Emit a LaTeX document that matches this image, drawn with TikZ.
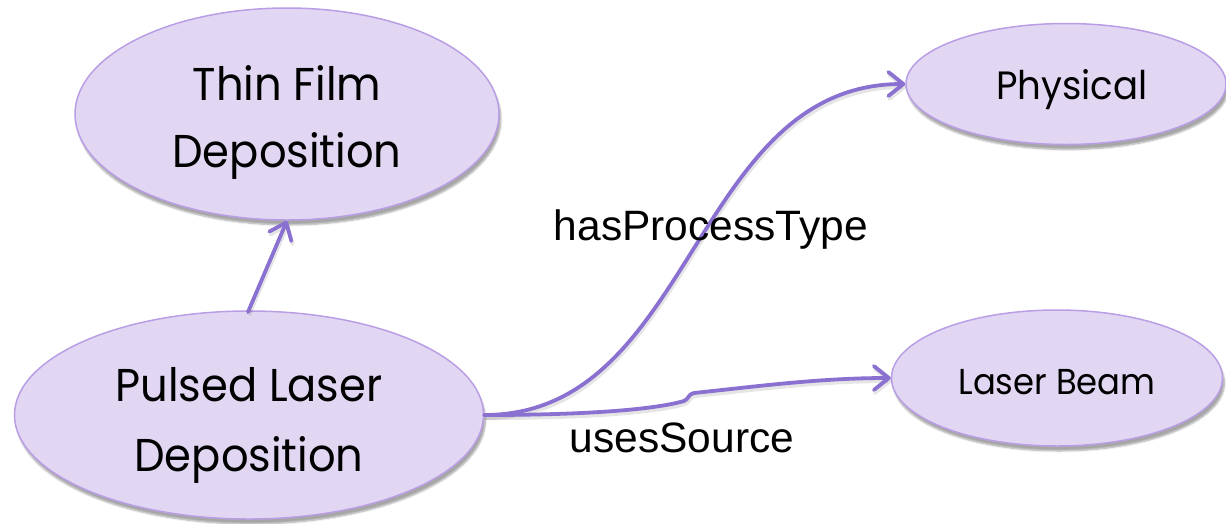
\documentclass[tikz,border=0pt]{standalone}
\usepackage{fontspec}
\newfontfamily\nodefont[FakeStretch=0.94]{Poppins}
\newfontfamily\labelfont{Liberation Sans}
\usetikzlibrary{arrows.meta,shapes.geometric,shadows.blur}
\definecolor{nodefill}{HTML}{E2D7F3}
\definecolor{nodeline}{HTML}{B99EE5}
\definecolor{edgecol}{HTML}{8A70D1}
\tikzset{
  concept/.style={ellipse, fill=nodefill, draw=nodeline, line width=1.5pt, inner sep=0pt,
    align=center, font=\nodefont,
    blur shadow={shadow xshift=2pt, shadow yshift=-5pt, shadow blur steps=6, shadow opacity=35}},
  rel/.style={draw=edgecol, line width=3.8pt, line cap=round,
    -{Straight Barb[length=15pt, width=24pt, line width=3.8pt, round]},
    preaction={draw=black, opacity=0.10, line width=4pt, transform canvas={xshift=1pt, yshift=-3pt}}},
  rellabel/.style={font=\labelfont\fontsize{42.5}{48}\selectfont, text=black, inner sep=0pt, anchor=base}
}
\begin{document}
\begin{tikzpicture}[x=1pt,y=1pt]
\useasboundingbox (0,0) rectangle (1226,-523);
\node[concept, minimum width=424pt, minimum height=212pt,
  font=\nodefont\fontsize{46}{67}\selectfont] (tfd) at (287,-114)
  {\raisebox{-7pt}[\height][\depth]{\begin{tabular}{@{}c@{}}Thin Film\\Deposition\end{tabular}}};
\node[concept, minimum width=469pt, minimum height=208pt,
  font=\nodefont\fontsize{46}{70}\selectfont] (pld) at (249,-415)
  {\raisebox{-7pt}[\height][\depth]{\begin{tabular}{@{}c@{}}Pulsed Laser\\Deposition\end{tabular}}};
\node[concept, minimum width=320pt, minimum height=121pt,
  font=\nodefont\fontsize{39.5}{44}\selectfont] (phy) at (1066,-84)
  {\hspace*{12pt}\raisebox{-6pt}[\height][\depth]{Physical}};
\node[concept, minimum width=331pt, minimum height=136pt,
  font=\nodefont\fontsize{36}{42}\selectfont] (lb) at (1057,-378)
  {\raisebox{-4pt}[\height][\depth]{Laser Beam}};

\coordinate (ptop) at (248,-312);
\draw[rel] (ptop) -- (tfd.south);
\draw[rel] (pld.east) .. controls +(210,0) and +(-213,0) .. (phy.west);
\coordinate (j1) at (684,-401);
\coordinate (j2) at (694,-393);
\draw[rel] (pld.east) .. controls +(117,0) and +(-24,-7) .. (j1)
  .. controls +(5,2) and +(-6,-1) .. (j2)
  .. controls +(66,7) and +(-70,0) .. (lb.west);

\node[rellabel] (l1) at (711,-240) {hasProcessType};
\node[rellabel] (l2) at (682,-452) {usesSource};
\end{tikzpicture}
\end{document}
